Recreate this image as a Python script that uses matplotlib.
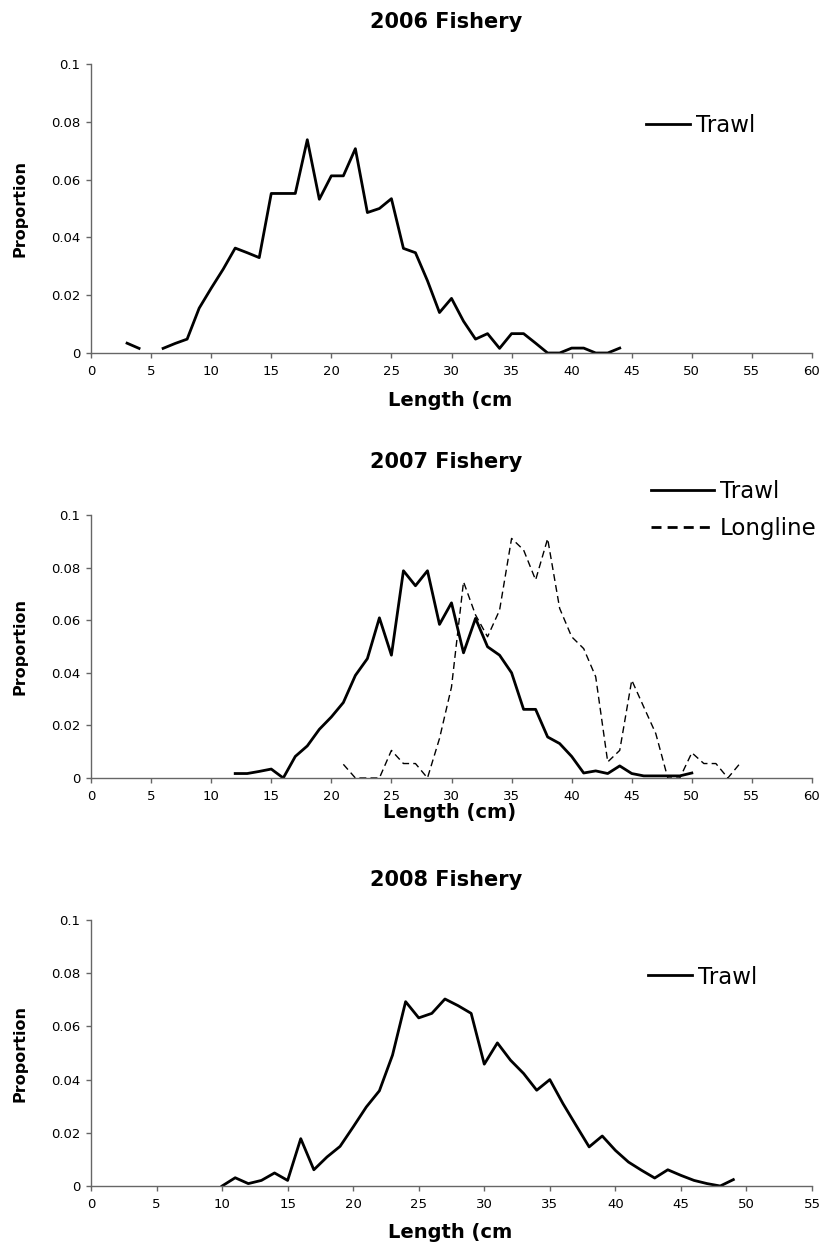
import matplotlib.pyplot as plt
import numpy as np

plt.rcParams['font.family'] = ['DejaVu Sans']

# 2006 fishery, trawl (length 5 cm has no value)
len_2006 = list(range(3, 45))
trawl_2006 = [0.0034, 0.0016, np.nan, 0.0016, 0.0033, 0.0048, 0.0155, 0.0224, 0.029, 0.0363,
              0.0347, 0.033, 0.0552, 0.0552, 0.0552, 0.0738, 0.0532, 0.0613, 0.0613, 0.0707,
              0.0486, 0.05, 0.0534, 0.0362, 0.0347, 0.025, 0.014, 0.0189, 0.011, 0.0048,
              0.0067, 0.0016, 0.0067, 0.0067, 0.0034, 0.0, 0.0, 0.0017, 0.0017, 0.0, 0.0, 0.0017]

# 2007 fishery, trawl and longline
len_2007_trawl = list(range(12, 51))
trawl_2007 = [0.0017, 0.0017, 0.0025, 0.0034, 0.0, 0.0082, 0.0122, 0.0185, 0.0232, 0.0287,
              0.039, 0.0454, 0.0609, 0.0467, 0.0788, 0.0731, 0.0788, 0.0584, 0.0666, 0.0476,
              0.0607, 0.0499, 0.0467, 0.040, 0.0261, 0.0261, 0.0156, 0.0131, 0.0082, 0.0019,
              0.0027, 0.0017, 0.0046, 0.0017, 0.0008, 0.0008, 0.0008, 0.0008, 0.0019]
len_2007_long = list(range(21, 55))
longline_2007 = [0.0052, 0.0, 0.0, 0.0, 0.0105, 0.0055, 0.0055, 0.0, 0.015, 0.0346,
                 0.0746, 0.062, 0.0537, 0.0638, 0.0911, 0.0867, 0.0753, 0.091, 0.0645, 0.0537,
                 0.0492, 0.0385, 0.0061, 0.0105, 0.0372, 0.027, 0.0169, 0.0, 0.0, 0.0096,
                 0.0055, 0.0055, 0.0, 0.0055]

# 2008 fishery, trawl
len_2008 = list(range(10, 50))
trawl_2008 = [0.0, 0.0031, 0.0009, 0.0021, 0.0049, 0.0021, 0.0178, 0.0061, 0.0109, 0.0149,
              0.0222, 0.0297, 0.0358, 0.0492, 0.0693, 0.0632, 0.0649, 0.0703, 0.0678, 0.0649,
              0.0458, 0.0538, 0.0473, 0.0423, 0.036, 0.040, 0.031, 0.0228, 0.0147, 0.0188,
              0.0134, 0.009, 0.0059, 0.003, 0.0061, 0.004, 0.0021, 0.0009, 0.0, 0.0024]

y_ticks = [0, 0.02, 0.04, 0.06, 0.08, 0.1]
y_labels = ['0', '0.02', '0.04', '0.06', '0.08', '0.1']

fig = plt.figure(figsize=(8.24, 12.47), dpi=100)
W, H = 824, 1247


def make_axes(top, bottom, xmax, title, title_y, xlabel, xlabel_y):
    ax = fig.add_axes([91 / W, 1 - bottom / H, 721 / W, (bottom - top) / H])
    ax.set_xlim(0, xmax)
    ax.set_ylim(0, 0.1)
    ax.set_xticks(range(0, xmax + 1, 5))
    ax.set_yticks(y_ticks)
    ax.set_yticklabels(y_labels)
    for s in ['top', 'right']:
        ax.spines[s].set_visible(False)
    for s in ['left', 'bottom']:
        ax.spines[s].set_color('#666666')
        ax.spines[s].set_linewidth(1)
    ax.tick_params(direction='out', length=3.5, width=1, color='#666666', labelsize=9.5)
    ax.tick_params(axis='x', pad=5)
    ax.tick_params(axis='y', pad=4)
    ax.set_ylabel('Proportion', fontsize=11.5, fontweight='bold', va='center')
    ax.yaxis.set_label_coords(-0.0985, 0.5)
    fig.text(446 / W, 1 - title_y / H, title, fontsize=15, fontweight='bold',
             ha='center', va='center')
    fig.text(450 / W, 1 - xlabel_y / H, xlabel, fontsize=14, fontweight='bold',
             ha='center', va='center')
    return ax


ax1 = make_axes(64, 353, 60, '2006 Fishery', 22, 'Length (cm', 400)
ax1.plot(len_2006, trawl_2006, color='black', lw=2, label='Trawl')
ax1.legend(loc='center left', bbox_to_anchor=(646 / W, 1 - 126 / H),
           bbox_transform=fig.transFigure, frameon=False, fontsize=16.5,
           handlelength=1.9, handletextpad=0.26, borderpad=0, borderaxespad=0)

ax2 = make_axes(515, 778, 60, '2007 Fishery', 462, 'Length (cm)', 813)
ax2.plot(len_2007_trawl, trawl_2007, color='black', lw=2, label='Trawl')
ax2.plot(len_2007_long, longline_2007, color='black', lw=1, linestyle=(0, (5, 3)),
         label='Longline')
leg = ax2.legend(loc='center left', bbox_to_anchor=(651 / W, 1 - 510 / H),
                 bbox_transform=fig.transFigure, frameon=False, fontsize=16.5,
                 handlelength=2.75, handletextpad=0.26, labelspacing=0.58,
                 borderpad=0, borderaxespad=0)
leg.get_lines()[1].set_linewidth(2)
leg.get_lines()[1].set_linestyle((0, (3.6, 2.2)))

ax3 = make_axes(920, 1186, 55, '2008 Fishery', 880, 'Length (cm', 1233)
ax3.plot(len_2008, trawl_2008, color='black', lw=2, label='Trawl')
ax3.legend(loc='center left', bbox_to_anchor=(648 / W, 1 - 977 / H),
           bbox_transform=fig.transFigure, frameon=False, fontsize=16.5,
           handlelength=1.9, handletextpad=0.26, borderpad=0, borderaxespad=0)

fig.savefig('out.png', dpi=100)
